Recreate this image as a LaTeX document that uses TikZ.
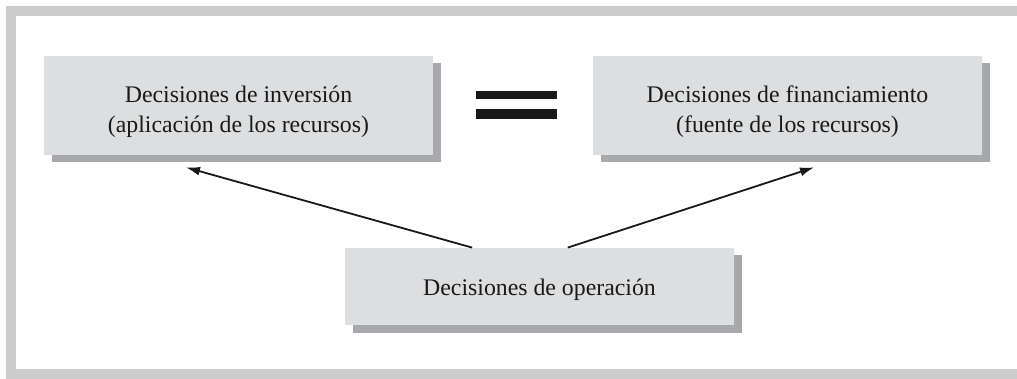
\documentclass[tikz,border=0pt]{standalone}
\usepackage{fontspec}
\setmainfont{Liberation Serif}
\usetikzlibrary{arrows.meta}
\usetikzlibrary{calc,shadows}

\definecolor{marco}{RGB}{205,205,205}
\definecolor{relleno}{RGB}{221,222,224}
\definecolor{sombra}{RGB}{168,169,173}

\begin{document}
\begin{tikzpicture}[x=0.5pt,y=-0.5pt,
	caja/.style={fill=relleno, minimum width=194.5pt, inner sep=0pt, align=center,
		font=\fontsize{11.9}{15}\selectfont, text=black!90,
		drop shadow={shadow xshift=4pt, shadow yshift=-3.75pt, fill=sombra, opacity=1}},
	flecha/.style={-{Latex[length=7pt,width=4.5pt]}, line width=0.9pt, black!90}]

		\useasboundingbox (0,0) rectangle (1017,379);

		% marco
		\fill [marco] (6,6) rectangle (1017,16);
		\fill [marco] (6,6) rectangle (16,379);
		\fill [marco] (6,369) rectangle (1017,379);

		\node [caja, minimum height=49.5pt] (inv) at (238.5,105.5) {\rule{0pt}{14.3pt}Decisiones de inversión\\(aplicación de los recursos)};
		\node [caja, minimum height=49.5pt] (fin) at (787.5,105.5) {\rule{0pt}{14.3pt}Decisiones de financiamiento\\(fuente de los recursos)};
		\node [caja, minimum height=38.5pt, text height=12pt] (op) at (539.5,286.5) {Decisiones de operación};

		% signo igual
		\fill [black!90] (476,91) rectangle (557,99);
		\fill [black!90] (476,109) rectangle (557,119);

		\coordinate (I) at ($(inv.south)+(-52.5,12)$);
		\coordinate (F) at ($(fin.south)+(26.5,12)$);

		\draw [flecha] (op.150) -- (I);
		\draw [flecha] (op.54) -- (F);

\end{tikzpicture}
\end{document}
